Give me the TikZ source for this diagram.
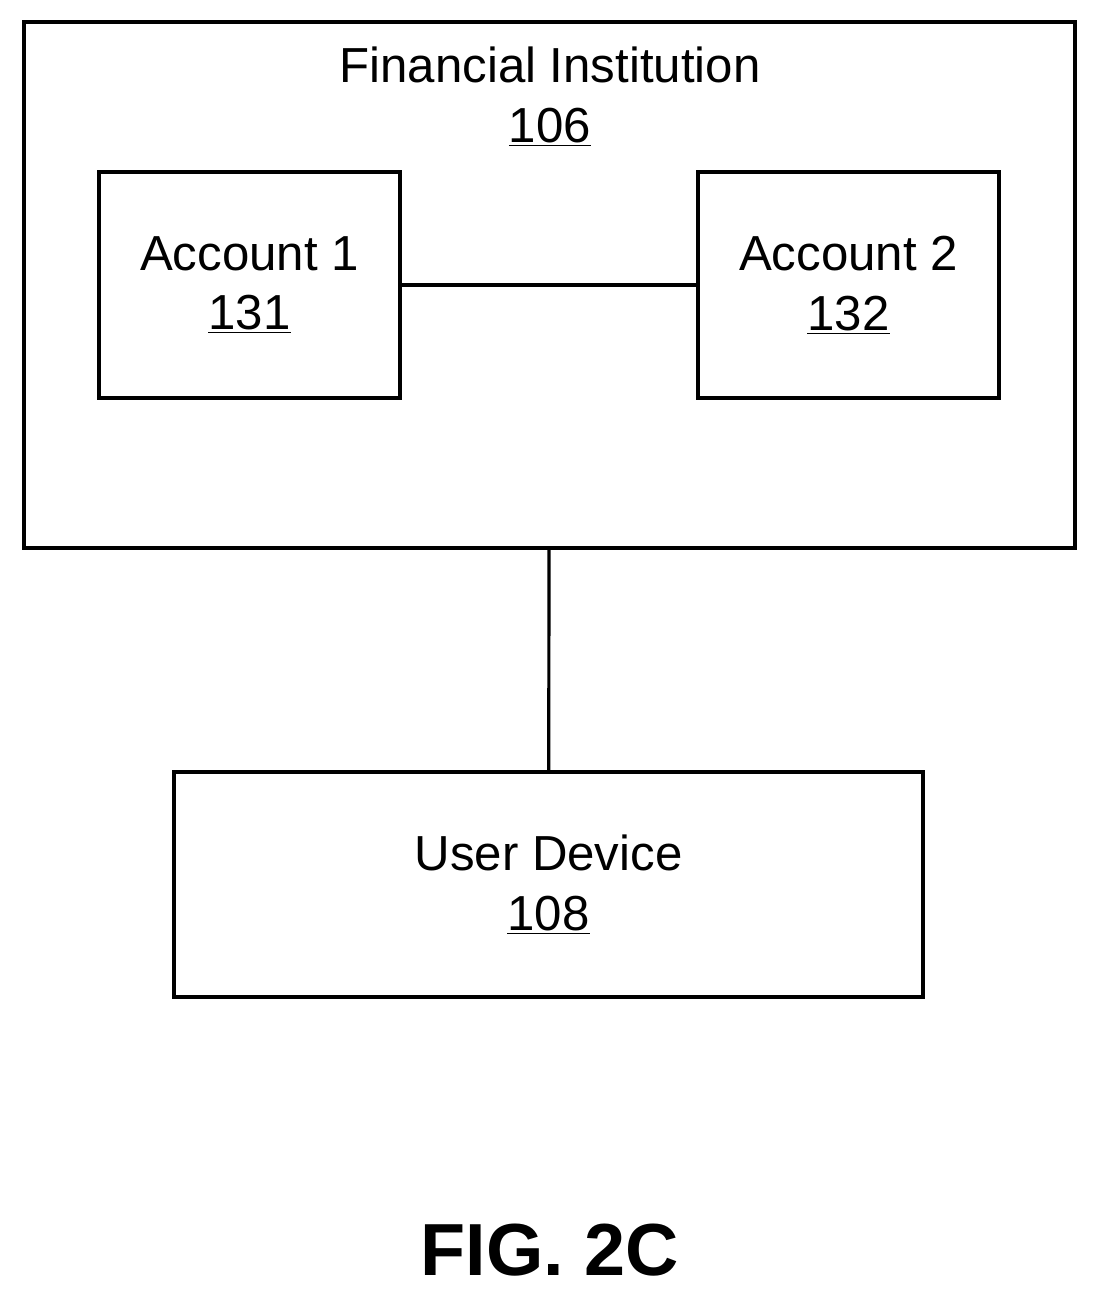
\documentclass[tikz,border=0pt]{standalone}
\usepackage{fontspec}
\setmainfont{Liberation Sans}
\usetikzlibrary{positioning}
\tikzset{
	box/.style={draw=black, line width=1.8pt, inner sep=0pt, align=center,
		font=\fontsize{28}{34}\selectfont},
	lbl/.style={align=center, font=\fontsize{28}{34}\selectfont},
	link/.style={draw=black, line width=1.8pt}
}
\begin{document}
\begin{tikzpicture}[x=0.02cm, y=-0.02cm]
	\useasboundingbox (0,0) rectangle (1098,1303);
	% Institution
	\node[box, minimum width=1051*0.02cm, minimum height=526*0.02cm] (inst) at (549.5,285) {};
	\node[lbl] (instlbl) at (550,97) {Financial Institution\\\underline{106}};
	% Konten
	\node[box, minimum width=301*0.02cm, minimum height=226*0.02cm] (acc1) at (249.5,285) {Account 1\\\underline{131}};
	\node[box, minimum width=301*0.02cm, minimum height=226*0.02cm] (acc2) at (848.5,285) {Account 2\\\underline{132}};
	% Geraet
	\node[box, minimum width=749*0.02cm, minimum height=225*0.02cm] (dev) at (548.5,884.5) {User Device\\\underline{108}};
	\draw[link] (acc1) -- (acc2);
	\draw[link] (inst) -- (dev);
	\node[font=\fontsize{42}{50}\selectfont\bfseries] (fig) at (550,1250) {FIG. 2C};
\end{tikzpicture}
\end{document}
